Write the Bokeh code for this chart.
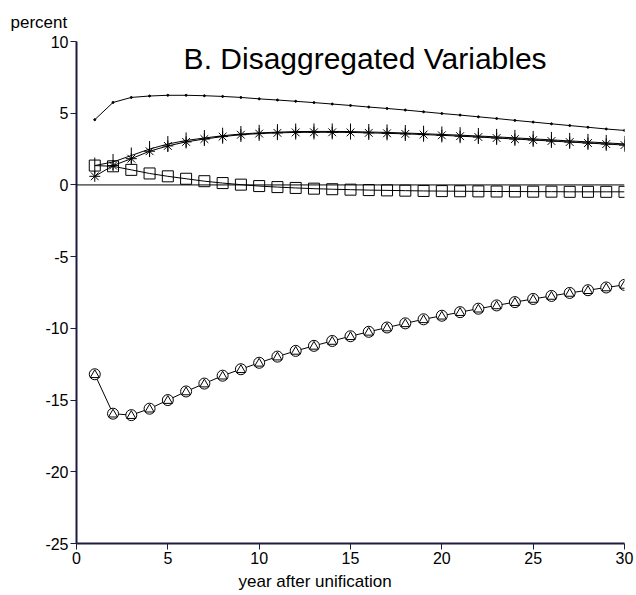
from bokeh.plotting import figure
from bokeh.models import FixedTicker, Label, Span, Title
from bokeh.embed import file_html
from bokeh.resources import INLINE

years = list(range(1, 31))
dots = [4.55, 5.75, 6.1, 6.2, 6.25, 6.25, 6.22, 6.17, 6.1, 6.0, 5.92, 5.83, 5.74, 5.64, 5.54,
        5.43, 5.33, 5.22, 5.1, 4.98, 4.87, 4.75, 4.63, 4.5, 4.38, 4.26, 4.14, 4.02, 3.9, 3.8]
ticks_series = [1.35, 1.6, 2.05, 2.5, 2.85, 3.1, 3.27, 3.43, 3.55, 3.63, 3.68, 3.72, 3.73, 3.73, 3.72,
                3.69, 3.66, 3.62, 3.57, 3.52, 3.47, 3.41, 3.35, 3.28, 3.21, 3.14, 3.07, 3.0, 2.93, 2.86]
stars = [0.6, 1.35, 1.83, 2.35, 2.72, 3.0, 3.2, 3.37, 3.5, 3.58, 3.63, 3.66, 3.67, 3.67, 3.66,
         3.63, 3.6, 3.56, 3.51, 3.46, 3.4, 3.34, 3.27, 3.2, 3.13, 3.06, 2.99, 2.92, 2.85, 2.78]
squares = [1.35, 1.3, 1.05, 0.8, 0.6, 0.43, 0.26, 0.13, 0.02, -0.08, -0.15, -0.21, -0.26, -0.3, -0.33,
           -0.36, -0.38, -0.4, -0.42, -0.43, -0.44, -0.45, -0.46, -0.46, -0.47, -0.47, -0.48, -0.48, -0.48, -0.48]
circles = [-13.2, -15.95, -16.05, -15.6, -15.0, -14.4, -13.85, -13.3, -12.85, -12.4, -11.97, -11.57, -11.22,
           -10.88, -10.55, -10.24, -9.94, -9.65, -9.37, -9.12, -8.87, -8.63, -8.4, -8.17, -7.95, -7.74,
           -7.53, -7.34, -7.15, -6.97]
triangles = [-13.25, -16.0, -16.1, -15.65, -15.05, -14.45, -13.9, -13.35, -12.9, -12.45, -12.02, -11.62,
             -11.27, -10.93, -10.6, -10.29, -9.99, -9.7, -9.42, -9.17, -8.92, -8.68, -8.45, -8.22, -8.0,
             -7.79, -7.58, -7.39, -7.2, -7.02]
x_ticks = [0, 5, 10, 15, 20, 25, 30]
y_ticks = [-25, -20, -15, -10, -5, 0, 5, 10]
y_tick_labels = ["-25", "-20", "-15", "-10", "-5", "0", "5", "10"]

FONT = "Liberation Sans"
AX = "#1c1c3c"

p = figure(width=636, height=595, x_range=(0, 30), y_range=(-25, 10),
           output_backend="svg", toolbar_location=None,
           min_border_left=76, min_border_right=12, min_border_top=41, min_border_bottom=52)
p.outline_line_color = None
p.xgrid.visible = False
p.ygrid.visible = False

p.add_layout(Title(text="percent", align="left", offset=-66, text_font=FONT, text_font_size="17px",
                   text_font_style="normal", text_color="black", standoff=20), "above")

for ax in (p.xaxis[0], p.yaxis[0]):
    ax.axis_line_color = AX
    ax.axis_line_width = 2
    ax.major_tick_line_color = AX
    ax.major_tick_out = 6
    ax.major_tick_in = 0
    ax.minor_tick_line_color = None
    ax.major_label_text_font = FONT
    ax.major_label_text_font_size = "16px"
    ax.major_label_text_color = "black"
p.xaxis.ticker = FixedTicker(ticks=x_ticks)
p.yaxis.ticker = FixedTicker(ticks=y_ticks)
p.yaxis.major_label_overrides = {t: s for t, s in zip(y_ticks, y_tick_labels)}
p.xaxis.major_label_standoff = 2
p.yaxis.major_label_standoff = 2

p.add_layout(Title(text="year after unification", align="left", offset=162, text_font=FONT,
                   text_font_size="17px", text_font_style="normal", text_color="black",
                   standoff=6), "below")

p.add_layout(Span(location=0, dimension="width", line_color="black", line_width=1))

# top line with small dots
p.line(years, dots, line_color="black", line_width=1)
p.scatter(years, dots, size=2, marker="circle", color="black")

# tick series and star series
p.line(years, ticks_series, line_color="black", line_width=1)
p.scatter(years, ticks_series, size=16, marker="dash", angle=1.5708, line_color="black", line_width=1)
p.line(years, stars, line_color="black", line_width=1)
p.scatter(years, stars, size=11, marker="asterisk", line_color="black", line_width=1)

# squares
p.line(years, squares, line_color="black", line_width=1)
p.scatter(years, squares, size=11, marker="square", line_color="black", fill_color=None, line_width=1)

# circles and triangles
p.line(years, circles, line_color="black", line_width=1)
p.scatter(years, circles, size=11, marker="circle", line_color="black", fill_color="white", line_width=1)
p.scatter(years, triangles, size=9, marker="triangle", line_color="black", fill_color=None, line_width=1)

p.add_layout(Label(x=15.8, y=8.8, text="B. Disaggregated Variables", text_align="center",
                   text_baseline="middle", text_font=FONT, text_font_size="30px", text_color="black"))

open("out.html", "w").write(file_html(p, INLINE))
